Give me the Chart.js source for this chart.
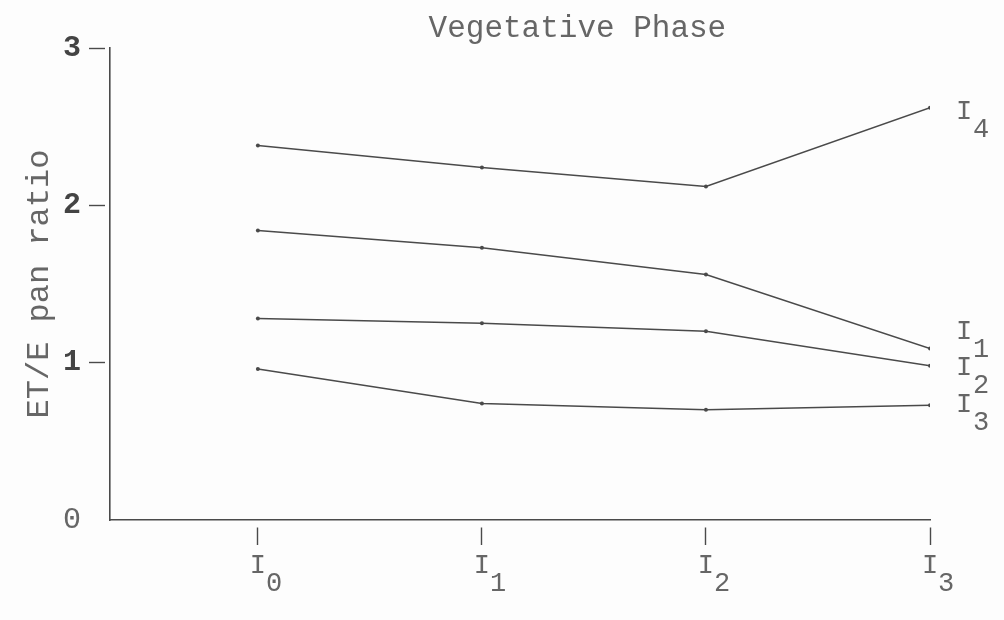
<!DOCTYPE html>
<html lang="en">
<head>
  <meta charset="UTF-8">
  <title>Vegetative Phase</title>
  <script src="https://cdn.jsdelivr.net/npm/chart.js"></script>
  <style>
    body {
      margin: 0;
      background: #fdfdfd;
    }
    #wrap {
      width: 1004px;
      height: 620px;
    }
  </style>
</head>
<body>

<div id="wrap"><canvas id="etChart"></canvas></div>

<script>
// irrigation levels on the x axis (I0..I3), subscripts only
const levels = [0, 1, 2, 3];
const levelSubs = ['0', '1', '2', '3'];

// series names, shown at the right end of each line
const seriesNames = ['I4', 'I1', 'I2', 'I3'];
const seriesSubs = ['4', '1', '2', '3'];

// ET/E pan ratio
const ratioI4 = [2.38, 2.24, 2.12, 2.62];
const ratioI1 = [1.84, 1.73, 1.56, 1.09];
const ratioI2 = [1.28, 1.25, 1.20, 0.98];
const ratioI3 = [0.96, 0.74, 0.70, 0.73];

const yTicks = [0, 1, 2, 3];

const ink = '#4a4a4a';
const textInk = '#666';
const mono = '"Liberation Mono", "DejaVu Sans Mono", monospace';

// vertical nudge of the end labels so they don't collide
const endLabelNudge = [4, -17, 2, 0];

function toPoints(values) {
  return values.map((v, i) => ({ x: levels[i], y: v }));
}

const allSeries = [ratioI4, ratioI1, ratioI2, ratioI3];

const datasets = allSeries.map((vals, i) => ({
  label: seriesNames[i],
  data: toPoints(vals),
  borderColor: ink,
  borderWidth: 1.5,
  pointRadius: 2,
  pointBackgroundColor: ink,
  pointBorderWidth: 0,
  tension: 0
}));

// subscript-style text: base letter then a lowered digit
function drawSub(ctx, base, sub, x, y) {
  ctx.fillText(base, x, y);
  ctx.fillText(sub, x + 17, y + 18);
}

const extrasPlugin = {
  id: 'extras',
  afterDraw(chart) {
    const ctx = chart.ctx;
    const area = chart.chartArea;
    ctx.save();
    ctx.fillStyle = textInk;
    ctx.textAlign = 'center';
    ctx.textBaseline = 'middle';

    // title, sits right of centre like the typed original
    ctx.font = '31px ' + mono;
    ctx.fillText('Vegetative Phase', area.left + (area.right - area.left) * 0.57, 29);

    // end-of-line labels
    ctx.font = '27px ' + mono;
    chart.data.datasets.forEach((ds, i) => {
      const meta = chart.getDatasetMeta(i);
      const last = meta.data[meta.data.length - 1];
      drawSub(ctx, 'I', seriesSubs[i], last.x + 34, last.y + endLabelNudge[i]);
    });
    ctx.restore();
  }
};

const chart = new Chart(document.getElementById('etChart'), {
  type: 'line',
  data: { datasets },
  options: {
    responsive: true,
    maintainAspectRatio: false,
    animation: false,
    layout: { padding: { top: 48, right: 74, left: 0, bottom: 0 } },
    plugins: {
      legend: { display: false },
      tooltip: { enabled: false }
    },
    scales: {
      x: {
        type: 'linear',
        min: -0.66,
        max: 3,
        afterBuildTicks: s => { s.ticks = levels.map(v => ({ value: v })); },
        afterFit: s => { s.height = 100; },
        border: { display: true, color: ink, width: 1.6 },
        grid: {
          drawOnChartArea: false,
          drawTicks: true,
          tickLength: 25,
          tickColor: ink,
          tickWidth: 1.4,
          tickBorderDash: [0, 7, 18, 100]
        },
        ticks: {
          color: textInk,
          padding: 12,
          maxRotation: 0,
          font: { family: mono, size: 27, lineHeight: 0.66 },
          callback: v => {
            const i = levels.indexOf(v);
            return i < 0 ? '' : ['I', '  ' + levelSubs[i]];
          }
        }
      },
      y: {
        min: 0,
        max: 3,
        afterBuildTicks: s => { s.ticks = yTicks.map(v => ({ value: v })); },
        afterFit: s => { s.width = 110; },
        border: { display: true, color: ink, width: 1.6 },
        grid: {
          drawOnChartArea: false,
          drawTicks: true,
          tickLength: 21,
          tickColor: c => c.tick && c.tick.value === 0 ? 'rgba(0,0,0,0)' : ink,
          tickWidth: 1.4,
          tickBorderDash: [16, 100]
        },
        ticks: {
          color: c => c.tick && c.tick.value === 0 ? textInk : '#444',
          padding: 8,
          font: c => ({
            family: mono,
            size: 30,
            weight: c.tick && c.tick.value === 0 ? 'normal' : 'bold'
          }),
          callback: v => String(v)
        },
        title: {
          display: true,
          text: 'ET/E pan ratio',
          color: textInk,
          font: { family: mono, size: 32, lineHeight: 1 },
          padding: { top: 24, bottom: 0 }
        }
      }
    }
  },
  plugins: [extrasPlugin]
});
</script>

</body>
</html>
